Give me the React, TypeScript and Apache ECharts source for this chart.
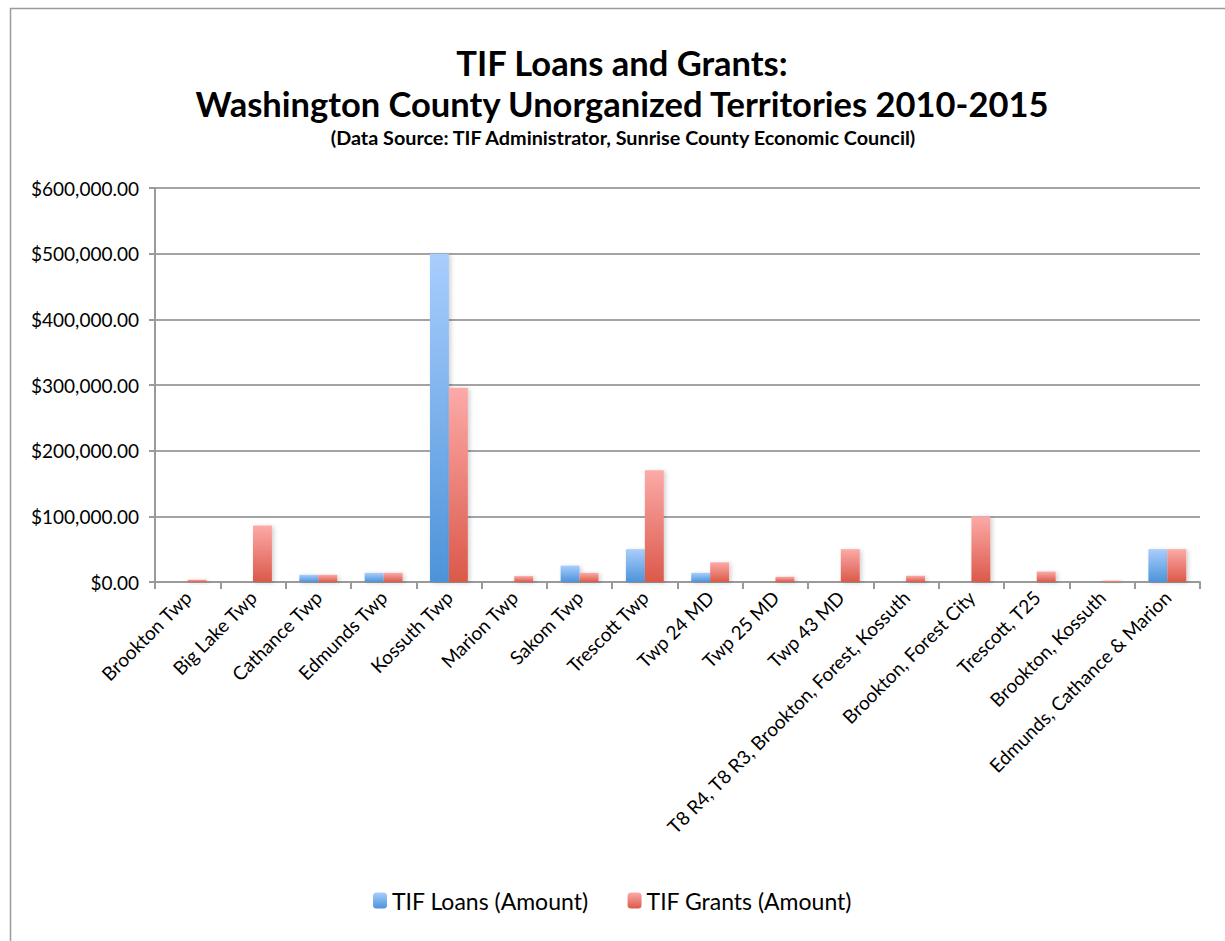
import React, { useEffect, useRef } from "react";
import * as echarts from "echarts";

const categories = [
  "Brookton Twp",
  "Big Lake Twp",
  "Cathance Twp",
  "Edmunds Twp",
  "Kossuth Twp",
  "Marion Twp",
  "Sakom Twp",
  "Trescott Twp",
  "Twp 24 MD",
  "Twp 25 MD",
  "Twp 43 MD",
  "T8 R4, T8 R3, Brookton, Forest, Kossuth",
  "Brookton, Forest City",
  "Trescott, T25",
  "Brookton, Kossuth",
  "Edmunds, Cathance & Marion",
];

const loans = [0, 0, 11000, 14000, 500000, 0, 25000, 50000, 14000, 0, 0, 0, 0, 0, 0, 50000];
const grants = [3500, 86000, 11000, 14000, 296000, 9000, 14000, 170000, 30000, 8000, 50000, 9500, 100000, 16000, 2000, 50000];

const seriesNames = ["TIF Loans (Amount)", "TIF Grants (Amount)"];
const titleLines = ["TIF Loans and Grants:", "Washington County Unorganized Territories 2010-2015"];
const subtitle = "(Data Source: TIF Administrator, Sunrise County Economic Council)";

const FONT = "Lato, 'Open Sans', sans-serif";

const blueGrad = () =>
  new echarts.graphic.LinearGradient(0, 0, 0, 1, [
    { offset: 0, color: "#a9cefd" },
    { offset: 1, color: "#4d93d9" },
  ]);
const redGrad = () =>
  new echarts.graphic.LinearGradient(0, 0, 0, 1, [
    { offset: 0, color: "#fcaaa8" },
    { offset: 1, color: "#db5949" },
  ]);

export default function App() {
  const ref = useRef<HTMLDivElement>(null);
  useEffect(() => {
    if (!ref.current) return;
    const chart = echarts.init(ref.current, undefined, { renderer: "svg" });
    const fmt = (v: number) =>
      "$" + v.toLocaleString("en-US", { minimumFractionDigits: 2, maximumFractionDigits: 2 });
    const barStyle = (grad: any) => ({
      color: grad,
      shadowColor: "rgba(0,0,0,0.18)",
      shadowBlur: 4,
      shadowOffsetX: 2,
      shadowOffsetY: 1,
    });
    chart.setOption({
      animation: false,
      backgroundColor: "#ffffff",
      textStyle: { fontFamily: FONT },
      graphic: [
        {
          type: "rect",
          shape: { x: 10.5, y: 8.5, width: 1240, height: 960 },
          style: { fill: "none", stroke: "#9a9a9a", lineWidth: 1.5 },
          silent: true,
        },
        {
          type: "text",
          x: 622,
          y: 62,
          style: {
            text: titleLines[0],
            font: `bold 34.5px ${FONT}`,
            fill: "#000",
            textAlign: "center",
            textVerticalAlign: "middle",
          },
        },
        {
          type: "text",
          x: 622,
          y: 103,
          style: {
            text: titleLines[1],
            font: `bold 34.5px ${FONT}`,
            fill: "#000",
            textAlign: "center",
            textVerticalAlign: "middle",
          },
        },
        {
          type: "text",
          x: 623,
          y: 137,
          style: {
            text: subtitle,
            font: `bold 19.8px ${FONT}`,
            fill: "#000",
            textAlign: "center",
            textVerticalAlign: "middle",
          },
        },
      ],
      legend: {
        data: seriesNames,
        bottom: 24,
        left: "center",
        itemWidth: 14,
        itemHeight: 16,
        itemGap: 39,
        textStyle: { fontSize: 23, color: "#000", fontFamily: FONT },
      },
      grid: { left: 155, right: 25, top: 188, bottom: 359, containLabel: false },
      xAxis: {
        type: "category",
        data: categories,
        axisLine: { lineStyle: { color: "#9a9a9a", width: 2 } },
        axisTick: { show: true, length: 7, lineStyle: { color: "#9a9a9a", width: 2 } },
        axisLabel: {
          rotate: 45,
          interval: 0,
          margin: 12,
          fontSize: 19,
          color: "#000",
          fontFamily: FONT,
        },
      },
      yAxis: {
        type: "value",
        min: 0,
        max: 600000,
        interval: 100000,
        axisLine: { show: true, lineStyle: { color: "#9a9a9a", width: 2 } },
        axisTick: { show: true, length: 6, lineStyle: { color: "#9a9a9a", width: 2 } },
        splitLine: { lineStyle: { color: "#a3a3a3", width: 2 } },
        axisLabel: {
          formatter: fmt,
          fontSize: 19,
          color: "#000",
          margin: 16,
          fontFamily: FONT,
        },
      },
      series: [
        {
          name: seriesNames[0],
          type: "bar",
          data: loans,
          barGap: "0%",
          barCategoryGap: "42%",
          itemStyle: barStyle(blueGrad()),
        },
        {
          name: seriesNames[1],
          type: "bar",
          data: grants,
          barGap: "0%",
          barCategoryGap: "42%",
          itemStyle: barStyle(redGrad()),
        },
      ],
    });
    return () => chart.dispose();
  }, []);
  return (
    <div
      ref={ref}
      style={{ position: "fixed", left: 0, top: 0, width: 1225, height: 941 }}
    />
  );
}
